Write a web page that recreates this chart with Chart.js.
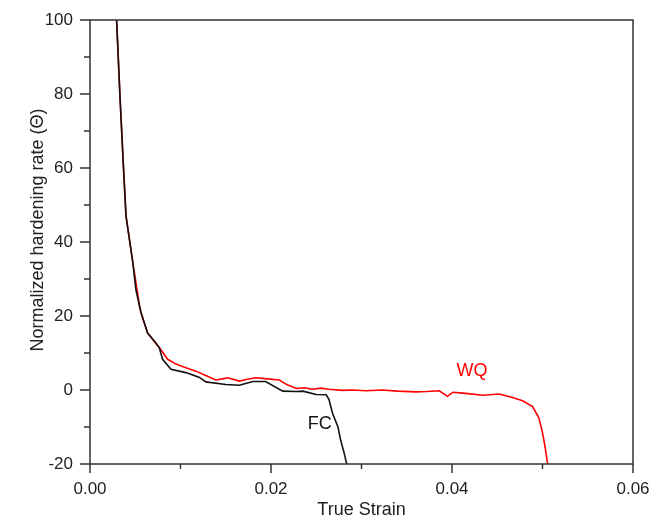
<!DOCTYPE html>
<html>
<head>
<title>Normalized hardening rate</title>
<script src="https://cdn.jsdelivr.net/npm/chart.js"></script>
<style>
 body { margin: 0; background: #fff; }
 #wrap { width: 663px; height: 522px; }
</style>
</head>
<body>
<div id="wrap"><canvas id="hardChart" width="663" height="522"></canvas></div>
<script>
// values
const wqStrain = [0.00294, 0.0033, 0.00368, 0.00398, 0.0047, 0.00552, 0.0058, 0.00636, 0.0072, 0.00766,
  0.00858, 0.0095, 0.0106, 0.0117, 0.0128, 0.0139, 0.0146, 0.0152, 0.0165, 0.0174,
  0.0183, 0.0196, 0.0209, 0.0218, 0.0228, 0.0237, 0.0246, 0.0255, 0.0264, 0.0279,
  0.029, 0.0305, 0.0323, 0.034, 0.036, 0.0372, 0.0386, 0.0395, 0.0401, 0.0415,
  0.0434, 0.0452, 0.0467, 0.0478, 0.0489, 0.0496, 0.05, 0.0503, 0.05056];
const wqRate = [100, 80, 61, 47, 35, 22, 19.5, 15.5, 12.8, 11.5,
  8.3, 7.0, 6.0, 5.1, 3.9, 2.7, 3.0, 3.3, 2.4, 2.9,
  3.3, 3.0, 2.7, 1.4, 0.4, 0.6, 0.2, 0.5, 0.2, -0.1,
  0.0, -0.2, 0.0, -0.3, -0.5, -0.4, -0.2, -1.7, -0.6, -0.9,
  -1.4, -1.1, -2.0, -2.9, -4.5, -7.5, -11.5, -15.6, -20];

const fcStrain = [0.00294, 0.0033, 0.00368, 0.00398, 0.0047, 0.00508, 0.0056, 0.00636, 0.0072, 0.00766,
  0.00802, 0.00895, 0.0106, 0.0121, 0.0128, 0.015, 0.0165, 0.018, 0.0194, 0.0213,
  0.0228, 0.0235, 0.025, 0.0261, 0.0264, 0.0268, 0.0274, 0.0277, 0.0281, 0.02836];
const fcRate = [100, 80, 61, 47, 35, 27, 21.3, 15.4, 13, 11.4,
  8.3, 5.6, 4.7, 3.4, 2.2, 1.5, 1.3, 2.3, 2.3, -0.3,
  -0.4, -0.3, -1.2, -1.3, -2.5, -6.3, -10, -13.6, -17.2, -20];

const xMajor = [0, 0.02, 0.04, 0.06];
const xMinor = [0.01, 0.03, 0.05];
const yMajor = [-20, 0, 20, 40, 60, 80, 100];
const yMinor = [-10, 10, 30, 50, 70, 90];

// curve labels: text, strain, rate
const curveLabels = [
  ['WQ', 0.0422, 5.2, '#ff0000'],
  ['FC', 0.0254, -9.2, '#111111']
];

const FONT = "'Liberation Sans', Arial, sans-serif";

function toPoints(xs, ys) {
  return xs.map((x, i) => ({ x: x, y: ys[i] }));
}

// frame, outward ticks, y title and curve labels
const framePlugin = {
  id: 'frame',
  afterDraw(chart) {
    const c = chart.ctx;
    const a = chart.chartArea;
    const xs = chart.scales.x, ys = chart.scales.y;
    c.save();
    c.strokeStyle = '#333';
    c.lineWidth = 1.5;
    c.strokeRect(a.left, a.top, a.right - a.left, a.bottom - a.top);
    c.beginPath();
    xMajor.forEach(v => { const p = xs.getPixelForValue(v); c.moveTo(p, a.bottom); c.lineTo(p, a.bottom + 9); });
    xMinor.forEach(v => { const p = xs.getPixelForValue(v); c.moveTo(p, a.bottom); c.lineTo(p, a.bottom + 5); });
    yMajor.forEach(v => { const p = ys.getPixelForValue(v); c.moveTo(a.left, p); c.lineTo(a.left - 10, p); });
    yMinor.forEach(v => { const p = ys.getPixelForValue(v); c.moveTo(a.left, p); c.lineTo(a.left - 6, p); });
    c.stroke();
    c.font = '18px ' + FONT;
    c.textAlign = 'center';
    c.textBaseline = 'middle';
    curveLabels.forEach(l => {
      c.fillStyle = l[3];
      c.fillText(l[0], xs.getPixelForValue(l[1]), ys.getPixelForValue(l[2]));
    });
    // y title sits a bit above the axis middle in the original
    c.fillStyle = '#222';
    c.translate(38, 230);
    c.rotate(-Math.PI / 2);
    c.fillText('Normalized hardening rate (Θ)', 0, 0);
    c.restore();
  }
};

new Chart(document.getElementById('hardChart'), {
  type: 'line',
  data: {
    datasets: [{
      label: 'FC',
      data: toPoints(fcStrain, fcRate),
      borderColor: '#111111',
      borderWidth: 1.6,
      pointRadius: 0,
      tension: 0
    }, {
      label: 'WQ',
      data: toPoints(wqStrain, wqRate),
      borderColor: '#ff0000',
      borderWidth: 1.6,
      pointRadius: 0,
      tension: 0
    }]
  },
  options: {
    responsive: false,
    animation: false,
    layout: { padding: { top: 20, right: 30, left: 0, bottom: 0 } },
    plugins: { legend: { display: false }, tooltip: { enabled: false } },
    scales: {
      x: {
        type: 'linear',
        min: 0, max: 0.06,
        grid: { display: false, drawTicks: false },
        border: { display: false },
        ticks: {
          stepSize: 0.02,
          padding: 15,
          color: '#222',
          font: { family: FONT, size: 17 },
          callback: v => v.toFixed(2)
        },
        title: {
          display: true, text: 'True Strain', color: '#222',
          font: { family: FONT, size: 18 },
          padding: { top: 0, bottom: 1 }
        },
        afterFit: s => { s.height = 58; s.paddingLeft = 0; s.paddingRight = 0; }
      },
      y: {
        min: -20, max: 100,
        grid: { display: false, drawTicks: false },
        border: { display: false },
        ticks: {
          stepSize: 20,
          padding: 17,
          color: '#222',
          font: { family: FONT, size: 17 }
        },
        afterFit: s => { s.width = 90; s.paddingTop = 0; s.paddingBottom = 0; }
      }
    }
  },
  plugins: [framePlugin]
});
</script>
</body>
</html>
